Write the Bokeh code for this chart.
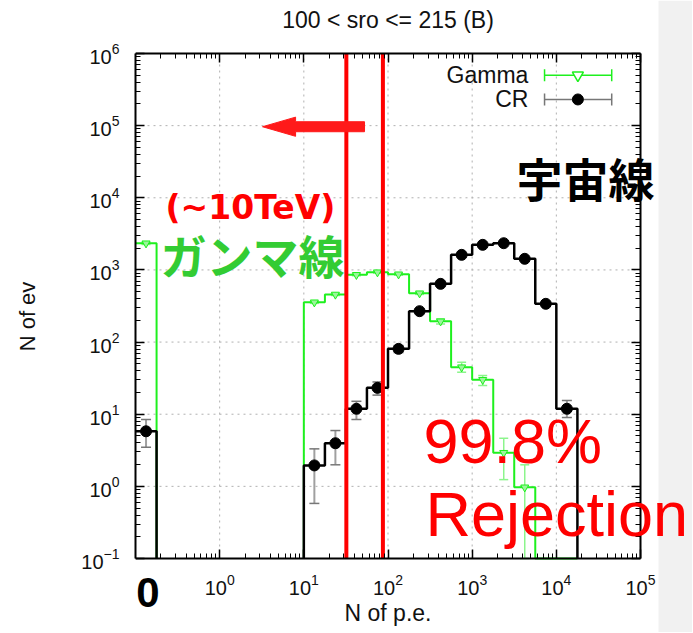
import math
from bokeh.plotting import figure
from bokeh.models import (LogAxis, FixedTicker, Label, Whisker, TeeHead, BoxAnnotation,
                          ColumnDataSource, Range1d)
from bokeh.embed import file_html
from bokeh.resources import INLINE

# ---------------- data ----------------
zero_edges = [0.1, 0.178]              # the "0 p.e." bin
bin_edges = [10, 17.8, 31.6, 56.2, 100, 178, 316, 562, 1000, 1780, 3160, 5620, 10000, 17800]

gamma_zero = 2340
gamma_zero_upper = 2420
gamma_zero_lower = 2260
gamma_counts = [356, 456, 855, 929, 870, 475, 194, 44.8, 30, 2.92, 0.97, 0, 0]
gamma_upper = [368, 470, 880, 955, 895, 492, 210, 52.5, 34.4, 4.64, 1.99, 0, 0]
gamma_lower = [344, 442, 830, 905, 845, 458, 178, 38.2, 25.0, 1.24, 0.1, 0, 0]

cr_zero = 5.8
cr_zero_upper = 8.45
cr_zero_lower = 3.49
cr_counts = [1.95, 3.96, 11.9, 23.2, 80.5, 268, 641, 1618, 2228, 2346, 1426, 339, 11.9]
cr_upper = [3.31, 5.94, 15.1, 28.0, 89.5, 284, 666, 1658, 2275, 2394, 1464, 357, 15.5]
cr_lower = [0.58, 1.99, 8.45, 18.4, 71.5, 252, 616, 1578, 2181, 2298, 1388, 321, 9.0]

thresholds = [32, 87]                  # red cut lines (N of p.e.)

x_ticks = [1, 10, 100, 1000, 10000, 100000]
y_ticks = [0.1, 1, 10, 100, 1000, 10000, 100000, 1000000]

title_text = "100 < sro <= 215 (B)"
xlabel = "N of p.e."
ylabel = "N of ev"

# ---------------- layout constants ----------------
W, H = 692, 632
BOX_L, BOX_R, BOX_T, BOX_B = 135, 640, 53, 558   # visible plot box (px)

XLO, XHI = 0.1, 1e5
YLO, YHI = 0.1, 1e6
LX0, LX1 = math.log10(XLO), math.log10(XHI)
LY0, LY1 = math.log10(YLO), math.log10(YHI)
PX_DEC_X = (BOX_R - BOX_L) / (LX1 - LX0)
PX_DEC_Y = (BOX_B - BOX_T) / (LY1 - LY0)
# the frame covers the whole canvas right of the y axis so that texts are not clipped
XR_HI = 10 ** (LX1 + (W - BOX_R) / PX_DEC_X)
YR_LO = 10 ** (LY0 - (H - BOX_B) / PX_DEC_Y)
YR_HI = 10 ** (LY1 + BOX_T / PX_DEC_Y)


def fx(f):
    return 10 ** (LX0 + f * (LX1 - LX0))


def fy(f):
    return 10 ** (LY0 + f * (LY1 - LY0))


def px_x(px):
    return fx((px - BOX_L) / (BOX_R - BOX_L))


def px_y(py):
    return fy((BOX_B - py) / (BOX_B - BOX_T))


def step_path(zero_val, counts):
    xs = [zero_edges[0], zero_edges[1], zero_edges[1], float("nan"), bin_edges[0]]
    ys = [zero_val, zero_val, YLO, float("nan"), YLO]
    for i, c in enumerate(counts):
        v = c if c > 0 else YLO
        xs += [bin_edges[i], bin_edges[i + 1]]
        ys += [v, v]
    xs.append(bin_edges[-1])
    ys.append(YLO)
    return xs, ys


def centers():
    c = [math.sqrt(zero_edges[0] * zero_edges[1])]
    for i in range(len(bin_edges) - 1):
        c.append(math.sqrt(bin_edges[i] * bin_edges[i + 1]))
    return c


def minor_list(lo_exp, hi_exp):
    out = []
    for e in range(lo_exp, hi_exp):
        for m in range(2, 10):
            out.append(m * 10 ** e)
    return out


FONT = "Liberation Sans"
GREEN = "#1ef01e"
GREEN_ERR = "#8cf58c"
GREY_ERR = "#a0a0a0"

p = figure(width=W, height=H, x_axis_type="log", y_axis_type="log",
           x_range=Range1d(XLO, XR_HI), y_range=Range1d(YR_LO, YR_HI),
           output_backend="svg", toolbar_location=None,
           min_border_left=BOX_L, min_border_right=0,
           min_border_top=0, min_border_bottom=0)

p.outline_line_color = None
p.background_fill_color = "white"
p.border_fill_color = "white"
p.xgrid.visible = False
p.ygrid.visible = False

# light grey slide edge on the right
p.add_layout(BoxAnnotation(left=px_x(658), fill_color="#f1f1f1", fill_alpha=1.0,
                           line_color=None, level="underlay"))

xt = FixedTicker(ticks=x_ticks, minor_ticks=minor_list(-1, 5))
yt = FixedTicker(ticks=y_ticks, minor_ticks=minor_list(-1, 6))

bottom_ax = p.below[0]
left_ax = p.left[0]
bottom_ax.ticker = xt
left_ax.ticker = yt
bottom_ax.fixed_location = YLO

top_ax = LogAxis(ticker=xt, fixed_location=YHI)
right_ax = LogAxis(ticker=yt, fixed_location=XHI)
p.add_layout(top_ax, "above")
p.add_layout(right_ax, "right")

for ax in [bottom_ax, top_ax]:
    ax.bounds = (XLO, XHI)
for ax in [left_ax, right_ax]:
    ax.bounds = (YLO, YHI)

for ax in [bottom_ax, left_ax, top_ax, right_ax]:
    ax.major_tick_in = 9
    ax.major_tick_out = 0
    ax.minor_tick_in = 5
    ax.minor_tick_out = 0
    ax.axis_line_color = "black"
    ax.axis_line_width = 2
    ax.major_tick_line_width = 1.5
    ax.minor_tick_line_width = 1
    ax.major_label_text_font = FONT
    ax.major_label_text_font_size = "20px"
    ax.major_label_text_color = "#111111"
    ax.axis_label_text_font = FONT
    ax.axis_label_text_font_size = "22px"
    ax.axis_label_text_font_style = "normal"
    ax.axis_label_text_color = "#111111"

for ax in [top_ax, right_ax]:
    ax.major_label_text_font_size = "6px"
    ax.major_label_text_alpha = 0.0
    ax.major_label_standoff = 0

bottom_ax.axis_label = xlabel
left_ax.axis_label = ylabel
bottom_ax.axis_label_text_font_size = "23px"
bottom_ax.major_label_standoff = 15
bottom_ax.axis_label_standoff = 2
left_ax.major_label_standoff = 16
left_ax.axis_label_standoff = 38

# ---------------- dotted grid (inside the box only) ----------------
gxs = [[t, t] for t in x_ticks if XLO < t < XHI]
gys = [[YLO, YHI] for t in x_ticks if XLO < t < XHI]
p.multi_line(gxs, gys, line_color="#b0b0b0", line_width=1, line_dash="2 4")
hxs = [[XLO, XHI] for t in y_ticks if YLO < t < YHI]
hys = [[t, t] for t in y_ticks if YLO < t < YHI]
p.multi_line(hxs, hys, line_color="#b0b0b0", line_width=1, line_dash="2 4")

# ---------------- histograms ----------------
cx = centers()

gx, gy = step_path(gamma_zero, gamma_counts)
p.line(gx, gy, line_color=GREEN, line_width=2)

g_vals = [gamma_zero] + gamma_counts
g_up = [gamma_zero_upper] + gamma_upper
g_lo = [gamma_zero_lower] + gamma_lower
gsel = [i for i, v in enumerate(g_vals) if v > 0]
gsrc = ColumnDataSource(dict(x=[cx[i] for i in gsel], y=[g_vals[i] for i in gsel],
                             up=[g_up[i] for i in gsel], lo=[g_lo[i] for i in gsel]))
p.add_layout(Whisker(source=gsrc, base="x", upper="up", lower="lo", dimension="height",
                     line_color=GREEN_ERR, line_width=1.5,
                     upper_head=TeeHead(size=9, line_color=GREEN_ERR, line_width=1.5),
                     lower_head=TeeHead(size=9, line_color=GREEN_ERR, line_width=1.5)))
p.scatter("x", "y", source=gsrc, marker="inverted_triangle", size=8,
          line_color=GREEN, fill_color="#9cf59c", line_width=1)

bx, by = step_path(cr_zero, cr_counts)
p.line(bx, by, line_color="black", line_width=2.5)

c_vals = [cr_zero] + cr_counts
c_up = [cr_zero_upper] + cr_upper
c_lo = [cr_zero_lower] + cr_lower
csrc = ColumnDataSource(dict(x=cx, y=c_vals, up=c_up, lo=c_lo))
p.add_layout(Whisker(source=csrc, base="x", upper="up", lower="lo", dimension="height",
                     line_color=GREY_ERR, line_width=2,
                     upper_head=TeeHead(size=10, line_color="#777777", line_width=1.5),
                     lower_head=TeeHead(size=10, line_color="#777777", line_width=1.5)))
p.scatter("x", "y", source=csrc, marker="circle", size=11,
          line_color="black", fill_color="black")

# ---------------- legend (gnuplot style: label left of sample) ----------------
leg_rows = [("Gamma", 0.957, GREEN, "inverted_triangle"), ("CR", 0.909, "#777777", "circle")]
for text, yf, col, mk in leg_rows:
    yy = fy(yf)
    p.add_layout(Label(x=fx(0.778), y=yy, text=text, text_align="right",
                       text_baseline="middle", text_font=FONT, text_font_size="23px",
                       text_color="#111111"))
    p.segment(x0=[fx(0.81)], y0=[yy], x1=[fx(0.943)], y1=[yy], line_color=col, line_width=1.5)
    p.segment(x0=[fx(0.81), fx(0.943)], y0=[fy(yf - 0.012)] * 2,
              x1=[fx(0.81), fx(0.943)], y1=[fy(yf + 0.012)] * 2,
              line_color=col, line_width=1.5)
    if mk == "circle":
        p.scatter([fx(0.876)], [yy], marker="circle", size=11, fill_color="black",
                  line_color="black")
    else:
        p.scatter([fx(0.876)], [yy], marker="inverted_triangle", size=11,
                  fill_color="white", line_color=GREEN, line_width=1.5)

# ---------------- red cuts and arrow ----------------
p.segment(x0=thresholds, y0=[YLO] * len(thresholds), x1=thresholds, y1=[YHI] * len(thresholds),
          line_color="#ff0000", line_width=4)

ay = 0.855
arrow_x = [fx(0.2515), fx(0.317), fx(0.317), fx(0.4535), fx(0.4535), fx(0.317), fx(0.317)]
arrow_y = [fy(ay), fy(ay + 0.019), fy(ay + 0.0099), fy(ay + 0.0099),
           fy(ay - 0.0099), fy(ay - 0.0099), fy(ay - 0.019)]
p.patch(arrow_x, arrow_y, fill_color="#ff1a1a", line_color="#ff1a1a", line_width=1)

# ---------------- texts ----------------
p.add_layout(Label(x=fx(0.5), y=px_y(19), text=title_text, text_align="center",
                   text_baseline="middle", text_font=FONT, text_font_size="23px",
                   text_color="#111111"))
p.add_layout(Label(x=px_x(165), y=px_y(207), text="(~10TeV)", text_align="left",
                   text_baseline="middle", text_font="DejaVu Sans", text_font_style="bold",
                   text_font_size="33px", text_color="#ff0000"))
p.add_layout(Label(x=px_x(160), y=px_y(253), text="ガンマ線", text_align="left",
                   text_baseline="middle", text_font="Noto Sans CJK JP",
                   text_font_style="bold", text_font_size="46px", text_color="#33cc33"))
p.add_layout(Label(x=px_x(516), y=px_y(176), text="宇宙線", text_align="left",
                   text_baseline="middle", text_font="Noto Sans CJK JP",
                   text_font_style="bold", text_font_size="46px", text_color="black"))
p.add_layout(Label(x=px_x(423), y=px_y(440), text="99.8%", text_align="left",
                   text_baseline="middle", text_font=FONT,
                   text_font_size="63px", text_color="#ff0000"))
p.add_layout(Label(x=px_x(425), y=px_y(513), text="Rejection", text_align="left",
                   text_baseline="middle", text_font=FONT,
                   text_font_size="63px", text_color="#ff0000"))
p.add_layout(Label(x=px_x(147.5), y=px_y(592), text="0", text_align="center",
                   text_baseline="middle", text_font=FONT, text_font_style="bold",
                   text_font_size="42px", text_color="black"))

open("out.html", "w").write(file_html(p, INLINE))
